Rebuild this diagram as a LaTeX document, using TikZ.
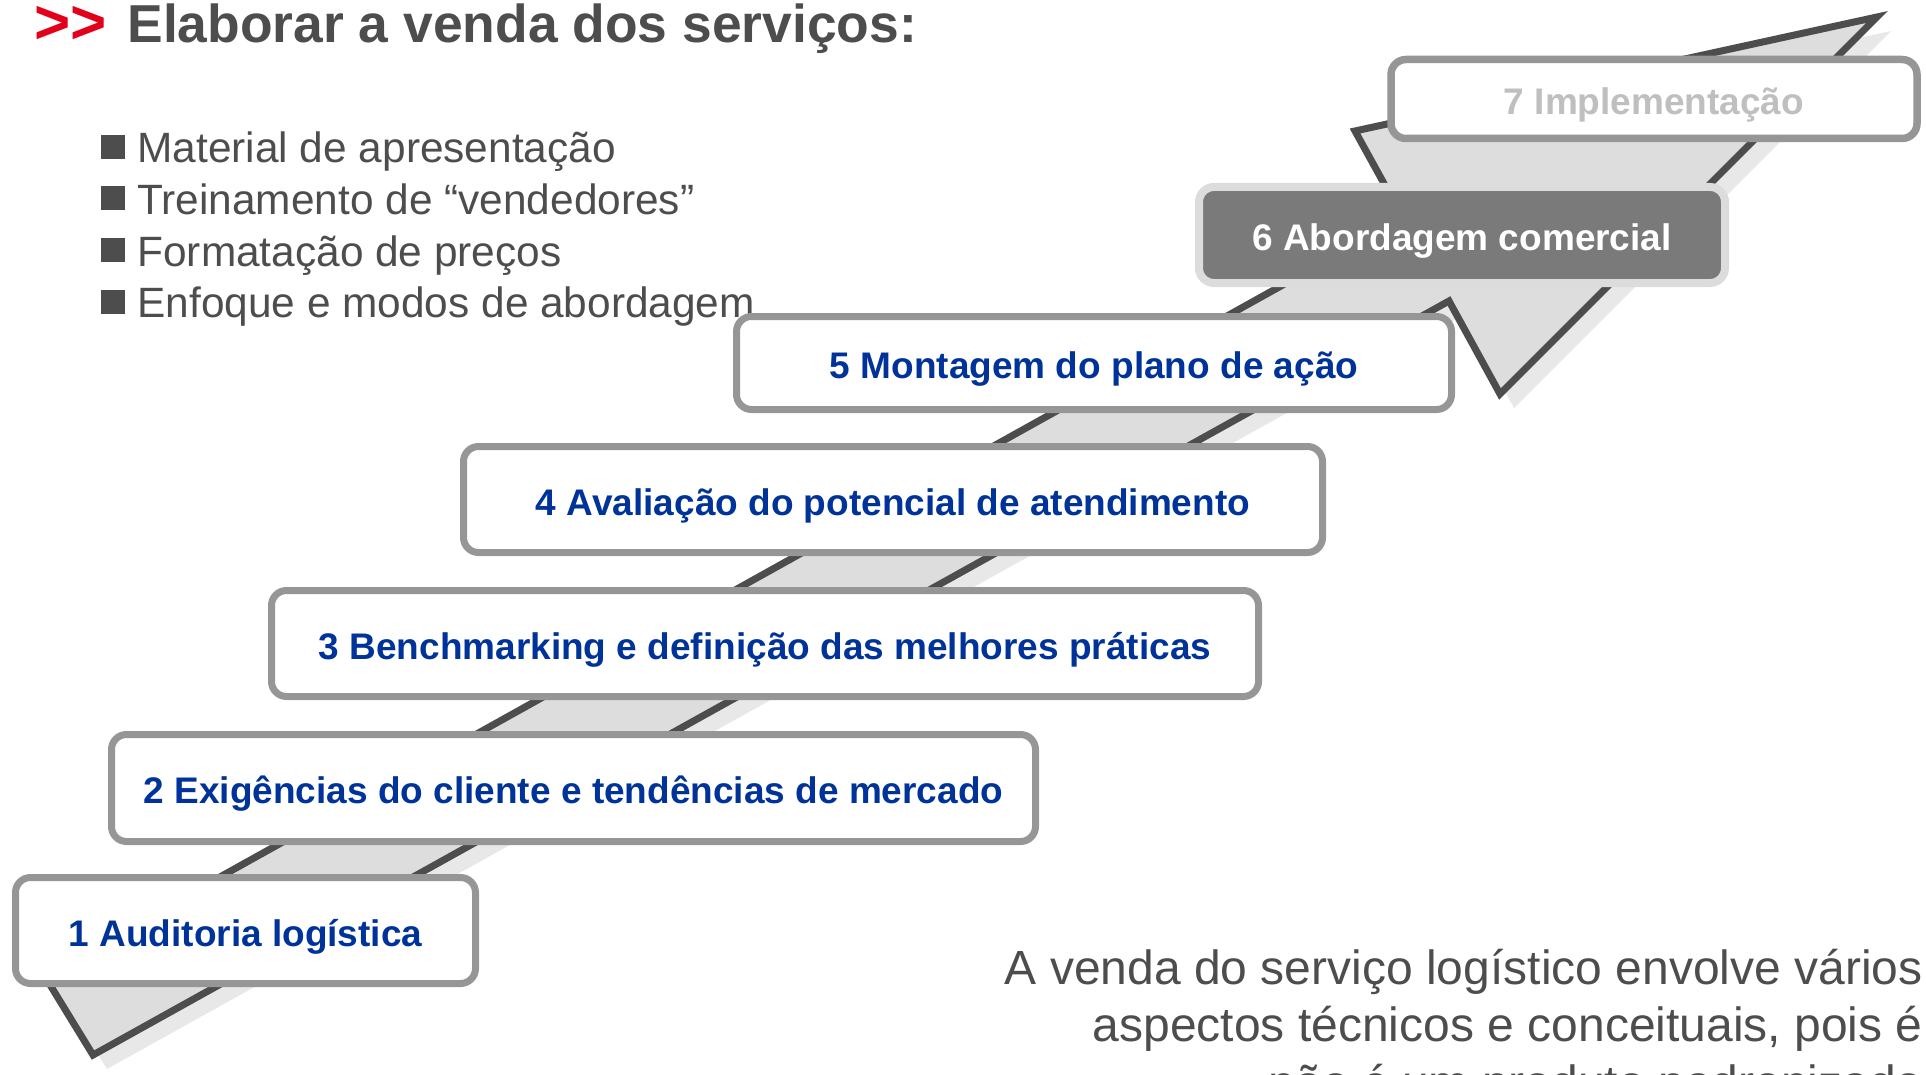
\documentclass[tikz,border=0pt]{standalone}
\usepackage{fontspec}
\setmainfont{Liberation Sans}
\definecolor{boxline}{HTML}{969696}
\definecolor{arrowline}{HTML}{4D4D4D}
\definecolor{arrowfill}{HTML}{DDDDDD}
\definecolor{shadowgray}{HTML}{E8E8E8}
\definecolor{stepblue}{HTML}{003399}
\definecolor{textgray}{HTML}{4D4D4D}
\definecolor{titlered}{HTML}{E2001A}
\definecolor{activefill}{HTML}{7A7A7A}
\definecolor{activeline}{HTML}{DCDCDC}
\definecolor{futuretext}{HTML}{BFBFBF}
\begin{document}
\begin{tikzpicture}[x=0.5pt, y=-0.5pt,
  stepbox/.style={draw=boxline, line width=3.5pt, rounded corners=7.5pt, fill=white, text=stepblue, font=\fontsize{18.5}{22}\selectfont\bfseries, inner sep=0pt, text height=15.5pt, text depth=0pt},
  bulletsq/.style={fill=textgray, minimum size=12pt, inner sep=0pt},
  bullettext/.style={anchor=base west, text=textgray, font=\fontsize{21.2}{25}\selectfont, inner sep=0pt},
  leadtext/.style={anchor=base east, text=textgray, font=\fontsize{24}{28}\selectfont, inner sep=0pt}]
\useasboundingbox (0,0) rectangle (1926,1075);
\clip (0,0) rectangle (1926,1075);

% big arrow behind the steps
\path[fill=shadowgray, shift={(14,14)}] (44,975) -- (93,1055) -- (1449,301) -- (1500,394) -- (1877,17) -- (1355,131) -- (1403,218) -- cycle;
\draw[arrowline, fill=arrowfill, line width=3.5pt, line join=miter] (44,975) -- (93,1055) -- (1449,301) -- (1500,394) -- (1877,17) -- (1355,131) -- (1403,218) -- cycle;

% title and bullets
\node[anchor=base west, inner sep=0pt, text height=16pt, text=titlered, font=\fontsize{31}{36}\selectfont\bfseries] (marker) at (34,44) {>\kern0pt>};
\node[anchor=base west, inner sep=0pt, text=textgray, font=\fontsize{26.7}{32}\selectfont\bfseries] (title) at (127,43) {Elaborar a venda dos serviços:};
\node[bulletsq] (sq1) at (112.5,147) {};
\node[bulletsq] (sq2) at (112.5,198.5) {};
\node[bulletsq] (sq3) at (112.5,250) {};
\node[bulletsq] (sq4) at (112.5,301.5) {};
\node[bullettext] (item1) at (137,163) {Material de apresentação};
\node[bullettext] (item2) at (137,214.5) {Treinamento de “vendedores”};
\node[bullettext] (item3) at (137,266) {Formatação de preços};
\node[bullettext] (item4) at (137,317.5) {Enfoque e modos de abordagem};

% steps
\node[stepbox, minimum width=230pt, minimum height=53pt] (s1) at (245.5,930.5) {1 Auditoria logística};
\node[stepbox, minimum width=462pt, minimum height=53.5pt] (s2) at (573.5,788) {2 Exigências do cliente e tendências de mercado};
\node[stepbox, minimum width=493.5pt, minimum height=53pt] (s3) at (765,643.5) {3 Benchmarking e definição das melhores práticas};
\node[stepbox, minimum width=429.5pt, minimum height=53pt] (s4) at (893,499.5) {4 Avaliação do potencial de atendimento};
\node[stepbox, minimum width=357.5pt, minimum height=46.5pt] (s5) at (1094,363) {5 Montagem do plano de ação};
\node[stepbox, draw=activeline, fill=activefill, text=white, line width=4pt, minimum width=263pt, minimum height=48pt] (s6) at (1462,235) {6 Abordagem comercial};
\node[stepbox, text=futuretext, line width=3.75pt, minimum width=263pt, minimum height=39.5pt] (s7) at (1654,99) {7 Implementação};

% closing remark
\node[leadtext] (lead1) at (1923,984) {A venda do serviço logístico envolve vários};
\node[leadtext] (lead2) at (1923,1041.5) {aspectos técnicos e conceituais, pois é};
\node[leadtext] (lead3) at (1923,1099) {não é um produto padronizado};
\end{tikzpicture}
\end{document}
